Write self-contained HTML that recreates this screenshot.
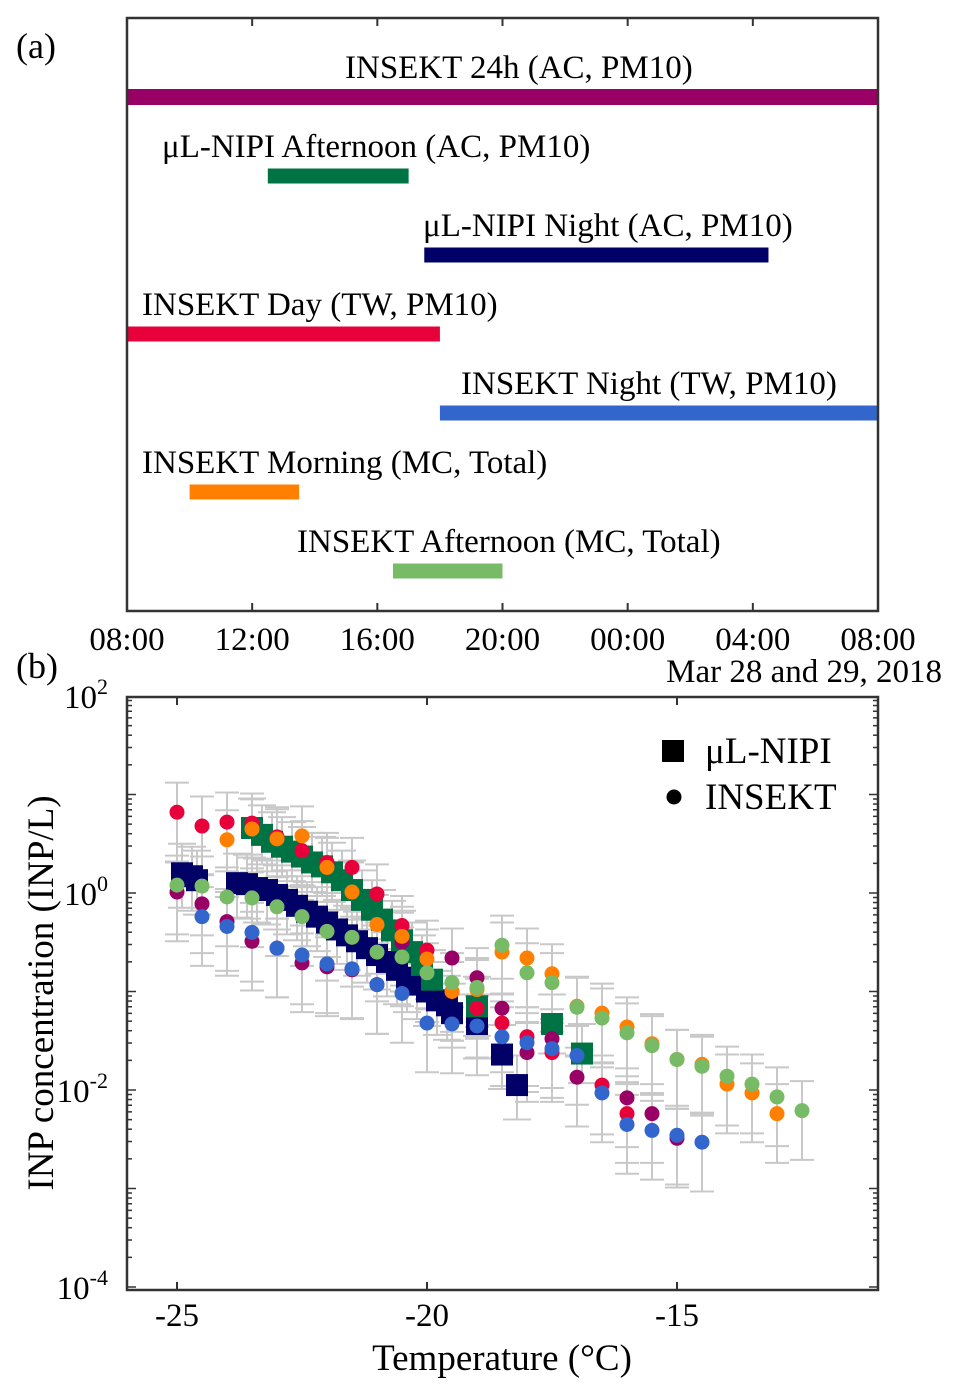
<!DOCTYPE html>
<html><head><meta charset="utf-8"><style>
body{margin:0;background:#fff;}
svg{display:block;font-family:"Liberation Serif",serif;}
</style></head><body>
<svg id="s" width="960" height="1396" viewBox="0 0 960 1396">
<g>
<text x="16" y="58" font-size="36">(a)</text>
<g id="bars"></g>
<rect x="127" y="18" width="751" height="593" fill="none" stroke="#333" stroke-width="2.5"/>
<g id="ticksA"></g>
<text x="942" y="682" font-size="33" text-anchor="end">Mar 28 and 29, 2018</text>
</g>
<g>
<text x="16" y="678" font-size="36">(b)</text>
<g id="err"></g>
<g id="marks"></g>
<rect x="127" y="697" width="751" height="593" fill="none" stroke="#333" stroke-width="2.5"/>
<g id="ticksB"></g>
<text x="502" y="1370" font-size="37" text-anchor="middle">Temperature (°C)</text>
<text transform="translate(53,993) rotate(-90)" font-size="37" text-anchor="middle">INP concentration (INP/L)</text>
<g>
<rect x="662" y="740" width="22" height="22" fill="#000"/>
<text x="705" y="763" font-size="37">μL-NIPI</text>
<circle cx="674" cy="797" r="7.5" fill="#000"/>
<text x="705" y="809" font-size="37">INSEKT</text>
</g>
</g>
</svg>
<script>
const NS="http://www.w3.org/2000/svg";
const periodNames=["INSEKT 24h (AC, PM10)","μL-NIPI Afternoon (AC, PM10)","μL-NIPI Night (AC, PM10)","INSEKT Day (TW, PM10)","INSEKT Night (TW, PM10)","INSEKT Morning (MC, Total)","INSEKT Afternoon (MC, Total)"];
const periodStart=[0,4.5,9.5,0,10,2,8.5];
const periodEnd=[24,9,20.5,10,24,5.5,12];
const periodColors=["#990066","#007345","#000066","#e8003a","#3366cc","#ff8000","#77bb66"];
const timeTicks=["08:00","12:00","16:00","20:00","00:00","04:00","08:00"];
const labelX=[345,162,423,142,461,142,297];

const nipiNightT=[-24.9,-24.7,-24.6,-23.8,-23.6,-23.4,-23.2,-23.0,-22.8,-22.6,-22.4,-22.2,-22.0,-21.8,-21.6,-21.4,-21.2,-21.0,-20.8,-20.6,-20.4,-20.2,-20.0,-19.8,-19.6,-19.5,-19.0,-18.5,-18.2];
const nipiNightLog=[0.2,0.17,0.13,0.1,0.09,0.05,0.03,-0.02,-0.07,-0.13,-0.19,-0.24,-0.3,-0.37,-0.43,-0.49,-0.56,-0.63,-0.7,-0.78,-0.86,-0.93,-1.0,-1.09,-1.14,-1.22,-1.33,-1.64,-1.95];
const nipiAftT=[-23.5,-23.3,-23.1,-22.9,-22.7,-22.5,-22.3,-22.1,-21.9,-21.7,-21.5,-21.3,-21.1,-20.9,-20.7,-20.5,-20.3,-20.1,-19.9,-19.0,-17.5,-16.9];
const nipiAftLog=[0.66,0.59,0.52,0.47,0.42,0.37,0.31,0.27,0.21,0.13,0.03,-0.07,-0.17,-0.27,-0.38,-0.48,-0.6,-0.73,-0.88,-1.15,-1.33,-1.63];
const ins24T=[-25,-24.5,-24,-23.5,-23,-22.5,-22,-21.5,-21,-20.5,-19.5,-19,-18.5,-18,-17.5,-17,-16,-15.5,-15];
const ins24Log=[0.01,-0.11,-0.29,-0.49,-0.56,-0.71,-0.75,-0.78,-0.93,-0.5,-0.66,-0.86,-1.17,-1.62,-1.48,-1.87,-2.08,-2.24,-2.49];
const insDayT=[-25,-24.5,-24,-23.5,-23,-22.5,-22,-21.5,-21,-20.5,-20,-19.5,-19,-18.5,-18,-17.5,-16.5,-16];
const insDayLog=[0.82,0.68,0.72,0.71,0.57,0.43,0.31,0.26,-0.01,-0.33,-0.58,-1.0,-1.17,-1.32,-1.46,-1.62,-1.95,-2.24];
const insMornT=[-24,-23.5,-23,-22.5,-22,-21.5,-21,-20.5,-20,-19.5,-19,-18.5,-18,-17.5,-17,-16.5,-16,-15.5,-15,-14.5,-14,-13.5,-13];
const insMornLog=[0.54,0.65,0.55,0.58,0.26,0.01,-0.32,-0.44,-0.67,-1.0,-0.98,-0.6,-0.66,-0.82,-1.15,-1.22,-1.36,-1.53,-1.69,-1.74,-1.94,-2.03,-2.24];
const insNightT=[-24.5,-24,-23.5,-23,-22.5,-22,-21.5,-21,-20.5,-20,-19.5,-19,-18.5,-18,-17.5,-17,-16.5,-16,-15.5,-15,-14.5];
const insNightLog=[-0.24,-0.34,-0.4,-0.56,-0.63,-0.72,-0.77,-0.93,-1.02,-1.32,-1.33,-1.35,-1.46,-1.52,-1.58,-1.65,-2.03,-2.35,-2.41,-2.46,-2.53];
const insAftT=[-25,-24.5,-24,-23.5,-23,-22.5,-22,-21.5,-21,-20.5,-20,-19.5,-19,-18.5,-18,-17.5,-17,-16.5,-16,-15.5,-15,-14.5,-14,-13.5,-13,-12.5];
const insAftLog=[0.08,0.07,-0.04,-0.05,-0.14,-0.24,-0.39,-0.45,-0.6,-0.65,-0.81,-0.91,-0.96,-0.53,-0.81,-0.91,-1.16,-1.27,-1.42,-1.55,-1.69,-1.76,-1.86,-1.94,-2.07,-2.21];
const xTickVals=[-25,-20,-15];
const yTickExp=[2,0,-2,-4];

function el(tag,attrs,parent){const e=document.createElementNS(NS,tag);for(const k in attrs)e.setAttribute(k,attrs[k]);parent.appendChild(e);return e;}
const hx=h=>127+h*751/24;
const xT=t=>177+(t+25)*50;
const yL=v=>893-v*98.5;

const bars=document.getElementById('bars');
periodNames.forEach((n,i)=>{
  const cy=97+i*79;
  const r=el('rect',{x:hx(periodStart[i]),y:cy-(i==0?8:7.5),width:hx(periodEnd[i])-hx(periodStart[i]),height:i==0?16:15,fill:periodColors[i]},bars);
  
  
  const t=el('text',{x:labelX[i],y:cy-19,'font-size':33},bars);
  t.textContent=n;
  
  
});
const ta=document.getElementById('ticksA');
timeTicks.forEach((l,i)=>{
  const x=hx(i*4);
  el('line',{x1:x,y1:611,x2:x,y2:603,stroke:'#333','stroke-width':2},ta);
  el('line',{x1:x,y1:18,x2:x,y2:26,stroke:'#333','stroke-width':2},ta);
  const t=el('text',{x:x,y:650,'font-size':33,'text-anchor':'middle'},ta);
  t.textContent=l;
  
  
});

const tb=document.getElementById('ticksB');
xTickVals.forEach(v=>{
  const x=xT(v);
  el('line',{x1:x,y1:1290,x2:x,y2:1282,stroke:'#333','stroke-width':2},tb);
  el('line',{x1:x,y1:697,x2:x,y2:705,stroke:'#333','stroke-width':2},tb);
  const t=el('text',{x:x,y:1326,'font-size':33,'text-anchor':'middle'},tb);
  t.textContent=String(v);
  
  
});
for(let d=-4;d<2;d++){for(let m=1;m<10;m++){
  const y=yL(d+Math.log10(m));const L=m==1?9:5;
  el('line',{x1:127,y1:y,x2:127+L,y2:y,stroke:'#333','stroke-width':1.5},tb);
  el('line',{x1:878,y1:y,x2:878-L,y2:y,stroke:'#333','stroke-width':1.5},tb);
}}
yTickExp.forEach(e=>{
  const t=el('text',{x:108,y:yL(e)+12,'font-size':33,'text-anchor':'end'},tb);
  t.textContent='10';
  const s=el('tspan',{dy:-14,'font-size':22},t);s.textContent=String(e);
  
  
});

const err=document.getElementById('err'),marks=document.getElementById('marks');
function ebars(T,L,up,dn,cap){T.forEach((t,i)=>{const x=xT(t);
  el('line',{x1:x,y1:yL(L[i]+up),x2:x,y2:yL(L[i]-dn),stroke:'#c8c8c8','stroke-width':2},err);
  el('line',{x1:x-cap,y1:yL(L[i]+up),x2:x+cap,y2:yL(L[i]+up),stroke:'#c8c8c8','stroke-width':2},err);
  el('line',{x1:x-cap,y1:yL(L[i]-dn),x2:x+cap,y2:yL(L[i]-dn),stroke:'#c8c8c8','stroke-width':2},err);});}
ebars(nipiNightT,nipiNightLog,0.3,0.35,14);
ebars(nipiAftT,nipiAftLog,0.3,0.3,14);
[[ins24T,ins24Log],[insDayT,insDayLog],[insMornT,insMornLog],[insNightT,insNightLog],[insAftT,insAftLog]].forEach(p=>ebars(p[0],p[1],0.3,0.5,12));

function squares(T,L,c,name){T.forEach((t,i)=>{const r=el('rect',{x:xT(t)-11,y:yL(L[i])-11,width:22,height:22,fill:c},marks);
  
  });}
function dots(T,L,c,name){T.forEach((t,i)=>{const r=el('circle',{cx:xT(t),cy:yL(L[i]),r:7.5,fill:c},marks);
  
  });}
squares(nipiNightT,nipiNightLog,'#000066','nipi-night-point');
squares(nipiAftT,nipiAftLog,'#007345','nipi-afternoon-point');
dots(ins24T,ins24Log,'#990066','insekt-24h-point');
dots(insDayT,insDayLog,'#e8003a','insekt-day-point');
dots(insMornT,insMornLog,'#ff8000','insekt-morning-point');
dots(insNightT,insNightLog,'#3366cc','insekt-night-point');
dots(insAftT,insAftLog,'#77bb66','insekt-afternoon-point');
</script>
</body></html>
